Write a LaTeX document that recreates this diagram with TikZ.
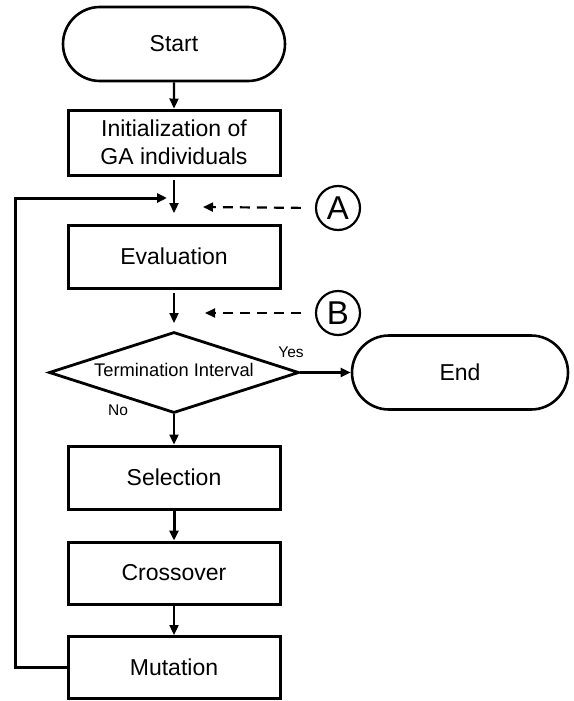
\documentclass[tikz,border=0pt]{standalone}
\usepackage{fontspec}
\setmainfont{Liberation Sans}
\usetikzlibrary{arrows.meta}
\usetikzlibrary{shapes.geometric}
\usetikzlibrary{shapes.misc}

\begin{document}
\begin{tikzpicture}[x=1pt,y=-1pt,
    box/.style={draw, line width=3pt, minimum width=212pt, minimum height=63pt, inner sep=0pt, align=center, font=\fontsize{23}{28}\selectfont},
    term/.style={draw, line width=2.6pt, rounded rectangle, minimum width=222pt, minimum height=74pt, inner sep=0pt, font=\fontsize{23}{28}\selectfont},
    decision/.style={draw, line width=2.8pt, diamond, aspect=3.09, minimum width=250pt, minimum height=81pt, inner sep=0pt, font=\fontsize{18.3}{22}\selectfont},
    letter/.style={draw, circle, line width=2.2pt, minimum size=44pt, inner sep=0pt, font=\fontsize{33}{36}\selectfont},
    answer/.style={inner sep=0pt, font=\fontsize{15.5}{18}\selectfont},
    flow/.style={line width=2.3pt, -{Triangle[length=10pt,width=9pt]}},
    hint/.style={line width=2.2pt, dash pattern=on 10pt off 7pt, -{Triangle[length=10pt,width=9pt]}}
  ]

      \useasboundingbox (0,0) rectangle (573,701);

      % Boxes
      \node[term] (start) at (174,44) {Start};
      \node[box, minimum height=65pt] (init) at (174,142.5) {Initialization of\\GA individuals};
      \node[box] (eval) at (174,256.5) {Evaluation};
      \node[decision] (dec) at (174,372.5) {};
      \node[font=\fontsize{18.3}{22}\selectfont, inner sep=0pt] (dectext) at (174,370) {Termination Interval};
      \node[term, minimum width=216pt] (end) at (460,372.5) {End};
      \node[box] (sel) at (174,477.5) {Selection};
      \node[box, minimum height=62pt] (cross) at (174,573) {Crossover};
      \node[box, minimum height=62pt] (mut) at (174,667.5) {Mutation};

      % Marks
      \node[letter] (A) at (338,208) {A};
      \node[letter] (B) at (338,313) {B};
      \node[answer] (yes) at (291,352) {Yes};
      \node[answer] (no) at (118,410) {No};

      % Free ends
      \coordinate (ja) at (174,180);
      \coordinate (jb) at (174,213);
      \coordinate (jc) at (174,293);
      \coordinate (jd) at (174,323);
      \coordinate (lp) at (167,198);
      \coordinate (pa) at (203,207);
      \coordinate (pb) at (205,313);

      % Arrows
      \draw[flow] (start) -- (init);
      \draw[flow] (ja) -- (jb);
      \draw[flow] (jc) -- (jd);
      \draw[flow] (dec.east) -- (end.west);
      \draw[flow] (dec.south) -- (sel.north);
      \draw[flow, line width=3pt] (sel) -- (cross);
      \draw[flow] (cross) -- (mut);
      \draw[flow, line width=3pt] (mut.west) -- ++(-51,0) |- (lp);

      % Dashed hints
      \draw[hint, shorten <=14pt] (A.west) -- (pa);
      \draw[hint, shorten <=14pt] (B.west) -- (pb);
  \end{tikzpicture}
\end{document}
